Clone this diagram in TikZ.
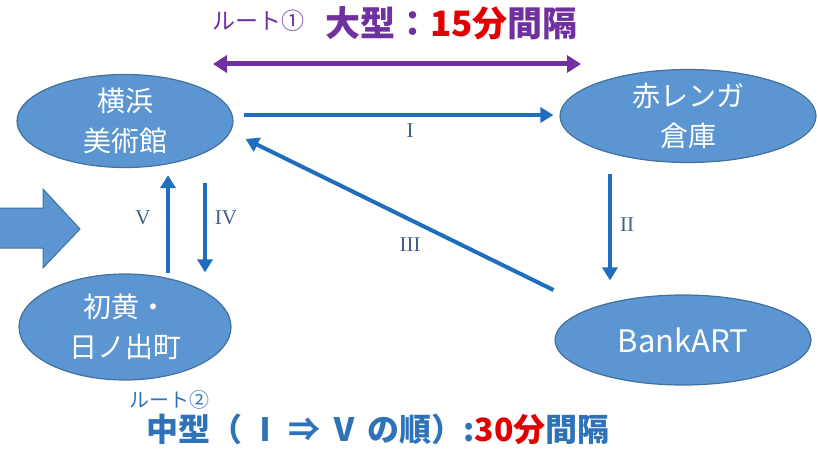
\documentclass[tikz,border=0pt]{standalone}
\usepackage{fontspec}
\newfontfamily\jp{Noto Sans CJK JP}
\newfontfamily\rom{Liberation Serif}
\usetikzlibrary{shapes.geometric,arrows.meta,calc}
\definecolor{ellfill}{HTML}{5B96D2}
\definecolor{ellline}{HTML}{41719C}
\definecolor{arrblue}{HTML}{1F6DBE}
\definecolor{labblue}{HTML}{3E5F8C}
\definecolor{purp}{HTML}{7030A0}
\definecolor{redt}{HTML}{E00000}
\definecolor{botblue}{HTML}{2E72B8}
\tikzset{
  station/.style={ellipse, draw=ellline, line width=1.2pt, fill=ellfill, text=white, inner sep=0pt, align=center, font=\jp\fontsize{28}{40}\selectfont},
  flow/.style={draw=arrblue, line width=4pt, -{Triangle[length=13pt,width=15pt]}},
  numlab/.style={text=labblue, font=\rom\fontsize{21}{21}\selectfont, inner sep=0pt},
}
\begin{document}
\begin{tikzpicture}[x=1pt,y=-1pt]
\useasboundingbox (0,0) rectangle (818,449);
% stations
\node[station, minimum width=216pt, minimum height=92pt] (yoko) at (125,121) {横浜\\美術館};
\node[station, minimum width=212pt, minimum height=106pt] (hino) at (125,327) {初黄・\\日ノ出町};
\node[station, minimum width=256pt, minimum height=92pt] (aka) at (688,116) {赤レンガ\\倉庫};
\node[station, minimum width=256pt, minimum height=90pt, font=\jp\fontsize{31}{34}\selectfont] (bank) at (683,340) {BankART};
% block arrow
\draw[fill=ellfill, draw=ellline, line width=1pt] (-2,208) -- (43,208) -- (43,189) -- (80,229) -- (43,268) -- (43,248) -- (-2,248) -- cycle;
% route 1 arrow
\coordinate (pl) at (213,64);
\coordinate (pr) at (581,64);
\draw[draw=purp, line width=5pt, {Triangle[length=14pt,width=17pt]}-{Triangle[length=14pt,width=17pt]}] (pl) -- (pr);
% flows
\draw[flow] ($(yoko.east)+(10,-6)$) -- ($(aka.west)+(-6,-1)$);
\draw[flow] ($(aka.south)+(-78,11)$) -- ($(bank.north)+(-73,-14)$);
\draw[flow] ($(bank.west)+(-1,-50)$) -- ($(yoko.east)+(12,18)$);
\draw[flow] ($(hino.north)+(43,0)$) -- ($(yoko.south)+(43,7)$);
\draw[flow] ($(yoko.south)+(80,15)$) -- ($(hino.north)+(80,-1)$);
% labels
\node[numlab] (lI) at (410,131) {I};
\node[numlab] (lII) at (627,225) {II};
\node[numlab] (lIII) at (410,245) {III};
\node[numlab] (lV) at (143,218) {V};
\node[numlab] (lIV) at (226,218) {IV};
% titles
\node[anchor=west, inner sep=0pt, text=purp, font=\jp\fontsize{23}{23}\selectfont] (r1) at (212,21) {ルート①};
\node[anchor=west, inner sep=0pt, font=\jp\bfseries\fontsize{35}{35}\selectfont] (t1) at (325,23) {\textcolor{purp}{大型}\textcolor{purp}{：}\textcolor{redt}{15分}\textcolor{purp}{間隔}};
\node[anchor=west, inner sep=0pt, text=botblue, font=\jp\fontsize{20}{20}\selectfont] (r2) at (129,400) {ルート②};
\node[anchor=west, inner sep=0pt, font=\jp\bfseries\fontsize{32}{32}\selectfont] (t2) at (146,429) {\textcolor{botblue}{中型（ Ⅰ ⇒ Ⅴ の順）:}\textcolor{redt}{30分}\textcolor{botblue}{間隔}};
\end{tikzpicture}
\end{document}
